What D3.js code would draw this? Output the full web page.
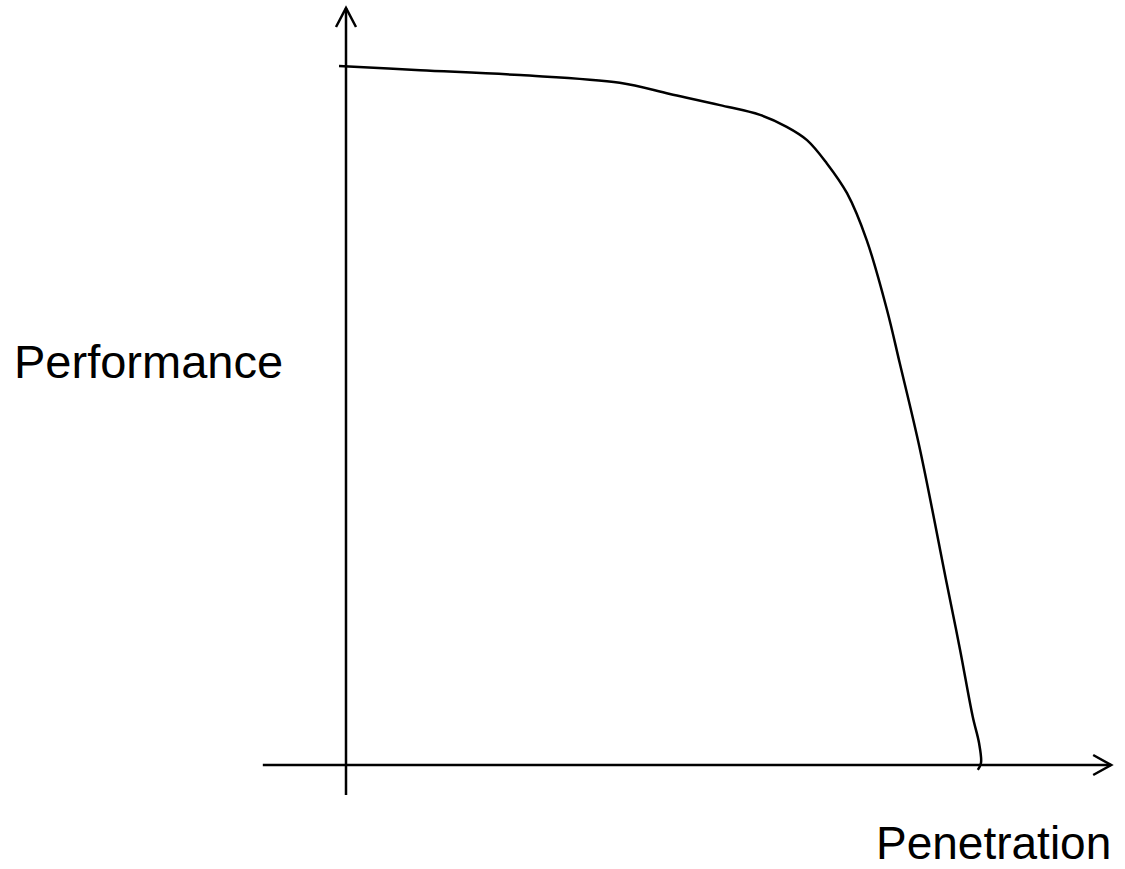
<!DOCTYPE html>
<html>
<head>
<meta charset="utf-8">
<script src="https://cdn.jsdelivr.net/npm/d3@7"></script>
<style>
  body { margin: 0; background: #fff; }
  text { font-family: Arial, "Liberation Sans", sans-serif; }
</style>
</head>
<body>
<div id="chart"></div>
<script>
// curve (penetration 0-100, performance 0-100)
const penetration = [-1.1, 11.7, 27.4, 43.1, 51.0, 58.9, 65.2, 69.4, 72.6, 75.7, 78.9, 82.0, 85.2, 87.2, 90.4, 94.6, 96.7, 98.7, 99.7, 100, 99.5];
const performance = [100, 99.4, 98.7, 97.6, 96.0, 94.4, 93.0, 91.3, 89.4, 86.1, 81.8, 75.1, 65.1, 57.5, 45.1, 26.0, 16.5, 6.9, 3.1, 0.3, -0.7];
const xLabel = 'Penetration';
const yLabel = 'Performance';

let width = 1125, height = 869;

let xScale = d3.scaleLinear().domain([0, 100]).range([346, 981]);
let yScale = d3.scaleLinear().domain([0, 100]).range([765, 66]);

let svg = d3.select('#chart')
  .append('svg')
  .attr('width', width)
  .attr('height', height);

// axes, drawn as hand-sketch style arrows
let xAxisExt = [-13.1, 120.5];
let yAxisExt = [-4.3, 108.3];
let sw = 2.5;

svg.append('line')
  .attr('x1', xScale(xAxisExt[0]))
  .attr('x2', xScale(xAxisExt[1]))
  .attr('y1', yScale(0))
  .attr('y2', yScale(0))
  .attr('stroke', 'black')
  .attr('stroke-width', sw);

svg.append('line')
  .attr('x1', xScale(0))
  .attr('x2', xScale(0))
  .attr('y1', yScale(yAxisExt[0]))
  .attr('y2', yScale(yAxisExt[1]))
  .attr('stroke', 'black')
  .attr('stroke-width', sw);

// arrow heads
let xt = xScale(xAxisExt[1]), yt = yScale(0);
svg.append('path')
  .attr('d', `M${xt - 18},${yt - 10}L${xt},${yt}L${xt - 18},${yt + 10}`)
  .attr('fill', 'none')
  .attr('stroke', 'black')
  .attr('stroke-width', sw);

let ax = xScale(0), ay = yScale(yAxisExt[1]);
svg.append('path')
  .attr('d', `M${ax - 10},${ay + 19}L${ax},${ay}L${ax + 10},${ay + 19}`)
  .attr('fill', 'none')
  .attr('stroke', 'black')
  .attr('stroke-width', sw);

// the curve
let points = penetration.map((p, i) => [p, performance[i]]);
let line = d3.line()
  .x(d => xScale(d[0]))
  .y(d => yScale(d[1]))
  .curve(d3.curveCatmullRom.alpha(0.5));

svg.append('path')
  .datum(points)
  .attr('d', line)
  .attr('fill', 'none')
  .attr('stroke', 'black')
  .attr('stroke-width', sw);

// labels
svg.append('text')
  .attr('x', 14)
  .attr('y', 378)
  .style('font-size', '47px')
  .text(yLabel);

svg.append('text')
  .attr('x', 876)
  .attr('y', 859)
  .style('font-size', '46px')
  .text(xLabel);
</script>
</body>
</html>
